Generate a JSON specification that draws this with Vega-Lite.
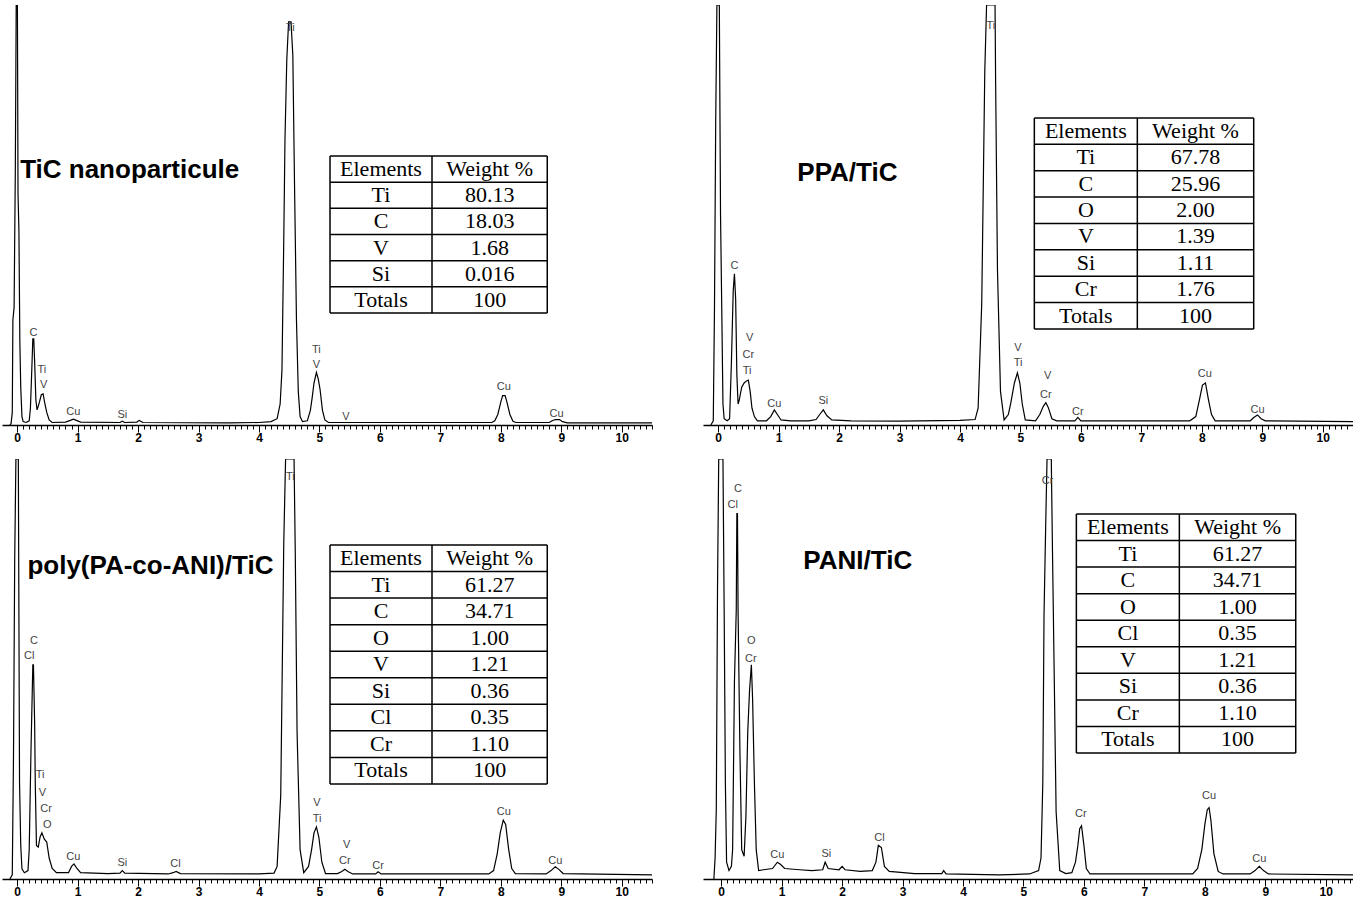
{
"$schema": "https://vega.github.io/schema/vega-lite/v6.json",
"background": "white",
"padding": {"left": 2, "top": 5, "right": 0, "bottom": 0},
"config": {"view": {"stroke": null},
 "axisX": {"domainColor": "black", "domainWidth": 1.5, "tickColor": "black", "tickWidth": 1, "labelFont": "Liberation Sans", "labelFontSize": 12, "labelFontWeight": "bold", "labelColor": "black", "labelPadding": 0, "labelOverlap": false, "labelFlush": false, "labelBound": false, "grid": false}},
"datasets": {
"ttl": [{"p":1,"name":"TiC nanoparticule"},{"p":2,"name":"PPA/TiC"},{"p":3,"name":"poly(PA-co-ANI)/TiC"},{"p":4,"name":"PANI/TiC"}],
"tbl": [
{"p":1,"row":0,"el":"Elements","w":"Weight %"},{"p":1,"row":1,"el":"Ti","w":"80.13"},{"p":1,"row":2,"el":"C","w":"18.03"},{"p":1,"row":3,"el":"V","w":"1.68"},{"p":1,"row":4,"el":"Si","w":"0.016"},{"p":1,"row":5,"el":"Totals","w":"100"},
{"p":2,"row":0,"el":"Elements","w":"Weight %"},{"p":2,"row":1,"el":"Ti","w":"67.78"},{"p":2,"row":2,"el":"C","w":"25.96"},{"p":2,"row":3,"el":"O","w":"2.00"},{"p":2,"row":4,"el":"V","w":"1.39"},{"p":2,"row":5,"el":"Si","w":"1.11"},{"p":2,"row":6,"el":"Cr","w":"1.76"},{"p":2,"row":7,"el":"Totals","w":"100"},
{"p":3,"row":0,"el":"Elements","w":"Weight %"},{"p":3,"row":1,"el":"Ti","w":"61.27"},{"p":3,"row":2,"el":"C","w":"34.71"},{"p":3,"row":3,"el":"O","w":"1.00"},{"p":3,"row":4,"el":"V","w":"1.21"},{"p":3,"row":5,"el":"Si","w":"0.36"},{"p":3,"row":6,"el":"Cl","w":"0.35"},{"p":3,"row":7,"el":"Cr","w":"1.10"},{"p":3,"row":8,"el":"Totals","w":"100"},
{"p":4,"row":0,"el":"Elements","w":"Weight %"},{"p":4,"row":1,"el":"Ti","w":"61.27"},{"p":4,"row":2,"el":"C","w":"34.71"},{"p":4,"row":3,"el":"O","w":"1.00"},{"p":4,"row":4,"el":"Cl","w":"0.35"},{"p":4,"row":5,"el":"V","w":"1.21"},{"p":4,"row":6,"el":"Si","w":"0.36"},{"p":4,"row":7,"el":"Cr","w":"1.10"},{"p":4,"row":8,"el":"Totals","w":"100"}
],
"lbl": [
{"p":1,"e":0.27,"v":22,"t":"C"},{"p":1,"e":0.41,"v":13,"t":"Ti"},{"p":1,"e":0.44,"v":9.5,"t":"V"},{"p":1,"e":0.93,"v":3.1,"t":"Cu"},{"p":1,"e":1.74,"v":2.4,"t":"Si"},{"p":1,"e":4.52,"v":94.5,"t":"Ti"},{"p":1,"e":4.95,"v":17.9,"t":"Ti"},{"p":1,"e":4.95,"v":14.3,"t":"V"},{"p":1,"e":5.44,"v":1.9,"t":"V"},{"p":1,"e":8.05,"v":9,"t":"Cu"},{"p":1,"e":8.92,"v":2.6,"t":"Cu"},
{"p":2,"e":0.27,"v":37.9,"t":"C"},{"p":2,"e":0.52,"v":20.7,"t":"V"},{"p":2,"e":0.5,"v":16.7,"t":"Cr"},{"p":2,"e":0.48,"v":12.9,"t":"Ti"},{"p":2,"e":0.93,"v":5,"t":"Cu"},{"p":2,"e":1.74,"v":5.7,"t":"Si"},{"p":2,"e":4.51,"v":95,"t":"Ti"},{"p":2,"e":4.96,"v":18.3,"t":"V"},{"p":2,"e":4.96,"v":14.8,"t":"Ti"},{"p":2,"e":5.45,"v":11.7,"t":"V"},{"p":2,"e":5.42,"v":7.1,"t":"Cr"},{"p":2,"e":5.95,"v":3.1,"t":"Cr"},{"p":2,"e":8.05,"v":12.1,"t":"Cu"},{"p":2,"e":8.92,"v":3.6,"t":"Cu"},
{"p":3,"e":0.28,"v":56.7,"t":"C"},{"p":3,"e":0.2,"v":53.1,"t":"Cl"},{"p":3,"e":0.38,"v":24.8,"t":"Ti"},{"p":3,"e":0.42,"v":20.5,"t":"V"},{"p":3,"e":0.48,"v":16.7,"t":"Cr"},{"p":3,"e":0.5,"v":12.9,"t":"O"},{"p":3,"e":0.93,"v":5.2,"t":"Cu"},{"p":3,"e":1.74,"v":3.8,"t":"Si"},{"p":3,"e":2.62,"v":3.6,"t":"Cl"},{"p":3,"e":4.52,"v":95.7,"t":"Ti"},{"p":3,"e":4.96,"v":18.1,"t":"V"},{"p":3,"e":4.96,"v":14.3,"t":"Ti"},{"p":3,"e":5.45,"v":8.1,"t":"V"},{"p":3,"e":5.42,"v":4.3,"t":"Cr"},{"p":3,"e":5.97,"v":3.1,"t":"Cr"},{"p":3,"e":8.05,"v":16,"t":"Cu"},{"p":3,"e":8.9,"v":4.3,"t":"Cu"},
{"p":4,"e":0.28,"v":92.9,"t":"C"},{"p":4,"e":0.19,"v":89,"t":"Cl"},{"p":4,"e":0.5,"v":56.7,"t":"O"},{"p":4,"e":0.49,"v":52.4,"t":"Cr"},{"p":4,"e":0.93,"v":5.7,"t":"Cu"},{"p":4,"e":1.74,"v":6,"t":"Si"},{"p":4,"e":2.62,"v":9.8,"t":"Cl"},{"p":4,"e":5.4,"v":94.8,"t":"Cr"},{"p":4,"e":5.95,"v":15.5,"t":"Cr"},{"p":4,"e":8.07,"v":19.8,"t":"Cu"},{"p":4,"e":8.9,"v":4.8,"t":"Cu"}
],
"spec": [
{"p":1,"e":-0.12,"v":0},{"p":1,"e":-0.1,"v":0.3},{"p":1,"e":-0.08,"v":3},{"p":1,"e":-0.07,"v":25},{"p":1,"e":-0.05,"v":28},{"p":1,"e":-0.03,"v":60},{"p":1,"e":-0.015,"v":100},{"p":1,"e":0.005,"v":100},{"p":1,"e":0.015,"v":55},{"p":1,"e":0.03,"v":46},{"p":1,"e":0.045,"v":20},{"p":1,"e":0.06,"v":9},{"p":1,"e":0.08,"v":2},{"p":1,"e":0.1,"v":0.8},{"p":1,"e":0.15,"v":0.6},{"p":1,"e":0.2,"v":1},{"p":1,"e":0.22,"v":4},{"p":1,"e":0.24,"v":12},{"p":1,"e":0.26,"v":20.5},{"p":1,"e":0.275,"v":20.5},{"p":1,"e":0.29,"v":15},{"p":1,"e":0.31,"v":6},{"p":1,"e":0.33,"v":3.6},{"p":1,"e":0.35,"v":4.5},{"p":1,"e":0.37,"v":5.5},{"p":1,"e":0.4,"v":7.2},{"p":1,"e":0.43,"v":7.4},{"p":1,"e":0.46,"v":5},{"p":1,"e":0.49,"v":3},{"p":1,"e":0.53,"v":1.2},{"p":1,"e":0.58,"v":0.6},{"p":1,"e":0.8,"v":0.7},{"p":1,"e":0.88,"v":1.1},{"p":1,"e":0.93,"v":1.4},{"p":1,"e":0.98,"v":1.1},{"p":1,"e":1.05,"v":0.7},{"p":1,"e":1.7,"v":0.6},{"p":1,"e":1.74,"v":0.9},{"p":1,"e":1.78,"v":0.6},{"p":1,"e":1.98,"v":0.7},{"p":1,"e":2.02,"v":1.1},{"p":1,"e":2.08,"v":0.6},{"p":1,"e":3.5,"v":0.5},{"p":1,"e":4.0,"v":0.6},{"p":1,"e":4.2,"v":0.8},{"p":1,"e":4.3,"v":1.5},{"p":1,"e":4.35,"v":5},{"p":1,"e":4.38,"v":13},{"p":1,"e":4.41,"v":44},{"p":1,"e":4.43,"v":68},{"p":1,"e":4.46,"v":87},{"p":1,"e":4.49,"v":96},{"p":1,"e":4.53,"v":96},{"p":1,"e":4.56,"v":88},{"p":1,"e":4.59,"v":55},{"p":1,"e":4.62,"v":25},{"p":1,"e":4.65,"v":8},{"p":1,"e":4.68,"v":2},{"p":1,"e":4.72,"v":0.8},{"p":1,"e":4.8,"v":1},{"p":1,"e":4.85,"v":3.5},{"p":1,"e":4.88,"v":6.5},{"p":1,"e":4.91,"v":10},{"p":1,"e":4.95,"v":12.5},{"p":1,"e":4.98,"v":11},{"p":1,"e":5.01,"v":8.5},{"p":1,"e":5.05,"v":3.5},{"p":1,"e":5.09,"v":1.2},{"p":1,"e":5.15,"v":0.6},{"p":1,"e":7.85,"v":0.6},{"p":1,"e":7.9,"v":1},{"p":1,"e":7.95,"v":2.5},{"p":1,"e":8.0,"v":5.5},{"p":1,"e":8.03,"v":7},{"p":1,"e":8.07,"v":7},{"p":1,"e":8.1,"v":5.5},{"p":1,"e":8.15,"v":2.5},{"p":1,"e":8.2,"v":0.9},{"p":1,"e":8.25,"v":0.6},{"p":1,"e":8.8,"v":0.6},{"p":1,"e":8.85,"v":1},{"p":1,"e":8.9,"v":1.3},{"p":1,"e":8.97,"v":1.3},{"p":1,"e":9.02,"v":0.8},{"p":1,"e":9.1,"v":0.5},{"p":1,"e":10.5,"v":0.5},
{"p":2,"e":-0.12,"v":0},{"p":2,"e":-0.08,"v":1},{"p":2,"e":-0.06,"v":28},{"p":2,"e":-0.04,"v":72},{"p":2,"e":-0.02,"v":100},{"p":2,"e":0.02,"v":100},{"p":2,"e":0.04,"v":50},{"p":2,"e":0.06,"v":28},{"p":2,"e":0.08,"v":5},{"p":2,"e":0.1,"v":1.5},{"p":2,"e":0.15,"v":1},{"p":2,"e":0.19,"v":1.5},{"p":2,"e":0.22,"v":15},{"p":2,"e":0.25,"v":32},{"p":2,"e":0.27,"v":36},{"p":2,"e":0.29,"v":30},{"p":2,"e":0.31,"v":12},{"p":2,"e":0.33,"v":5},{"p":2,"e":0.35,"v":6},{"p":2,"e":0.39,"v":9},{"p":2,"e":0.43,"v":10},{"p":2,"e":0.47,"v":10.5},{"p":2,"e":0.5,"v":10.7},{"p":2,"e":0.53,"v":8},{"p":2,"e":0.56,"v":4},{"p":2,"e":0.6,"v":2},{"p":2,"e":0.65,"v":1},{"p":2,"e":0.8,"v":1},{"p":2,"e":0.87,"v":2},{"p":2,"e":0.93,"v":3.6},{"p":2,"e":0.98,"v":2.5},{"p":2,"e":1.04,"v":1.2},{"p":2,"e":1.2,"v":1},{"p":2,"e":1.5,"v":1},{"p":2,"e":1.62,"v":1.3},{"p":2,"e":1.68,"v":2.5},{"p":2,"e":1.74,"v":3.6},{"p":2,"e":1.8,"v":2.2},{"p":2,"e":1.88,"v":1.2},{"p":2,"e":2.2,"v":1},{"p":2,"e":3.0,"v":0.9},{"p":2,"e":4.0,"v":1.1},{"p":2,"e":4.25,"v":1.3},{"p":2,"e":4.3,"v":4},{"p":2,"e":4.36,"v":29},{"p":2,"e":4.41,"v":84},{"p":2,"e":4.44,"v":100},{"p":2,"e":4.58,"v":100},{"p":2,"e":4.59,"v":81},{"p":2,"e":4.62,"v":37},{"p":2,"e":4.67,"v":8},{"p":2,"e":4.73,"v":1.2},{"p":2,"e":4.8,"v":2.5},{"p":2,"e":4.84,"v":5.2},{"p":2,"e":4.9,"v":10},{"p":2,"e":4.95,"v":12.4},{"p":2,"e":4.99,"v":10},{"p":2,"e":5.03,"v":5},{"p":2,"e":5.08,"v":1.2},{"p":2,"e":5.25,"v":1},{"p":2,"e":5.32,"v":2.5},{"p":2,"e":5.38,"v":4.5},{"p":2,"e":5.42,"v":5.3},{"p":2,"e":5.46,"v":4.2},{"p":2,"e":5.52,"v":1.5},{"p":2,"e":5.6,"v":1},{"p":2,"e":5.9,"v":1},{"p":2,"e":5.95,"v":1.8},{"p":2,"e":6.0,"v":1},{"p":2,"e":7.8,"v":1},{"p":2,"e":7.9,"v":2},{"p":2,"e":7.96,"v":6},{"p":2,"e":8.01,"v":9.5},{"p":2,"e":8.06,"v":10},{"p":2,"e":8.11,"v":6},{"p":2,"e":8.16,"v":2.5},{"p":2,"e":8.22,"v":1},{"p":2,"e":8.8,"v":1},{"p":2,"e":8.86,"v":1.8},{"p":2,"e":8.92,"v":2.4},{"p":2,"e":8.98,"v":1.5},{"p":2,"e":9.05,"v":1},{"p":2,"e":10.5,"v":0.8},
{"p":3,"e":-0.12,"v":0},{"p":3,"e":-0.08,"v":1},{"p":3,"e":-0.06,"v":29},{"p":3,"e":-0.04,"v":76},{"p":3,"e":-0.02,"v":100},{"p":3,"e":0.02,"v":100},{"p":3,"e":0.04,"v":23},{"p":3,"e":0.06,"v":8},{"p":3,"e":0.08,"v":2.4},{"p":3,"e":0.12,"v":1.5},{"p":3,"e":0.18,"v":2},{"p":3,"e":0.2,"v":7},{"p":3,"e":0.23,"v":31},{"p":3,"e":0.26,"v":51},{"p":3,"e":0.27,"v":51},{"p":3,"e":0.29,"v":37},{"p":3,"e":0.3,"v":23},{"p":3,"e":0.32,"v":8},{"p":3,"e":0.35,"v":7.6},{"p":3,"e":0.38,"v":10},{"p":3,"e":0.41,"v":11},{"p":3,"e":0.45,"v":9.5},{"p":3,"e":0.49,"v":8.8},{"p":3,"e":0.53,"v":5},{"p":3,"e":0.58,"v":2.5},{"p":3,"e":0.65,"v":1.5},{"p":3,"e":0.85,"v":1.5},{"p":3,"e":0.9,"v":3},{"p":3,"e":0.94,"v":3.6},{"p":3,"e":0.99,"v":2.5},{"p":3,"e":1.05,"v":1.5},{"p":3,"e":1.5,"v":1.3},{"p":3,"e":1.7,"v":1.4},{"p":3,"e":1.74,"v":2},{"p":3,"e":1.78,"v":1.4},{"p":3,"e":2.5,"v":1.2},{"p":3,"e":2.58,"v":1.5},{"p":3,"e":2.63,"v":1.8},{"p":3,"e":2.7,"v":1.3},{"p":3,"e":4.0,"v":1.2},{"p":3,"e":4.25,"v":1.4},{"p":3,"e":4.3,"v":3},{"p":3,"e":4.36,"v":20},{"p":3,"e":4.41,"v":80},{"p":3,"e":4.44,"v":100},{"p":3,"e":4.58,"v":100},{"p":3,"e":4.6,"v":78},{"p":3,"e":4.63,"v":35},{"p":3,"e":4.68,"v":7},{"p":3,"e":4.74,"v":1.5},{"p":3,"e":4.82,"v":3},{"p":3,"e":4.87,"v":7},{"p":3,"e":4.91,"v":11},{"p":3,"e":4.95,"v":12.4},{"p":3,"e":4.99,"v":10},{"p":3,"e":5.04,"v":4},{"p":3,"e":5.1,"v":1.3},{"p":3,"e":5.3,"v":1.3},{"p":3,"e":5.37,"v":1.8},{"p":3,"e":5.42,"v":2.3},{"p":3,"e":5.47,"v":1.8},{"p":3,"e":5.55,"v":1.2},{"p":3,"e":5.93,"v":1.2},{"p":3,"e":5.97,"v":1.7},{"p":3,"e":6.02,"v":1.2},{"p":3,"e":7.8,"v":1.2},{"p":3,"e":7.88,"v":2},{"p":3,"e":7.94,"v":6},{"p":3,"e":7.99,"v":11},{"p":3,"e":8.04,"v":14},{"p":3,"e":8.08,"v":13},{"p":3,"e":8.13,"v":7},{"p":3,"e":8.18,"v":2.5},{"p":3,"e":8.24,"v":1.3},{"p":3,"e":8.75,"v":1.2},{"p":3,"e":8.83,"v":2},{"p":3,"e":8.9,"v":2.9},{"p":3,"e":8.96,"v":2.3},{"p":3,"e":9.03,"v":1.3},{"p":3,"e":10.5,"v":1},
{"p":4,"e":-0.12,"v":0},{"p":4,"e":-0.1,"v":5},{"p":4,"e":-0.08,"v":16.7},{"p":4,"e":-0.06,"v":69},{"p":4,"e":-0.04,"v":100},{"p":4,"e":0.03,"v":100},{"p":4,"e":0.05,"v":64},{"p":4,"e":0.07,"v":23},{"p":4,"e":0.09,"v":4},{"p":4,"e":0.13,"v":2},{"p":4,"e":0.17,"v":3},{"p":4,"e":0.19,"v":7},{"p":4,"e":0.22,"v":47},{"p":4,"e":0.25,"v":64},{"p":4,"e":0.26,"v":87},{"p":4,"e":0.27,"v":87},{"p":4,"e":0.28,"v":64},{"p":4,"e":0.31,"v":31},{"p":4,"e":0.34,"v":7},{"p":4,"e":0.38,"v":5.4},{"p":4,"e":0.41,"v":15},{"p":4,"e":0.44,"v":35},{"p":4,"e":0.47,"v":45},{"p":4,"e":0.5,"v":51},{"p":4,"e":0.52,"v":43},{"p":4,"e":0.55,"v":23},{"p":4,"e":0.58,"v":7},{"p":4,"e":0.62,"v":2},{"p":4,"e":0.7,"v":2.2},{"p":4,"e":0.85,"v":2.5},{"p":4,"e":0.93,"v":4},{"p":4,"e":0.98,"v":3.5},{"p":4,"e":1.05,"v":2.5},{"p":4,"e":1.3,"v":2.2},{"p":4,"e":1.5,"v":2},{"p":4,"e":1.68,"v":2.2},{"p":4,"e":1.72,"v":4},{"p":4,"e":1.77,"v":2.5},{"p":4,"e":1.95,"v":2.2},{"p":4,"e":2.0,"v":3},{"p":4,"e":2.05,"v":2.2},{"p":4,"e":2.3,"v":1.8},{"p":4,"e":2.5,"v":2},{"p":4,"e":2.56,"v":4},{"p":4,"e":2.6,"v":8},{"p":4,"e":2.65,"v":7.5},{"p":4,"e":2.7,"v":3},{"p":4,"e":2.78,"v":1.8},{"p":4,"e":3.2,"v":1.3},{"p":4,"e":3.65,"v":1.3},{"p":4,"e":3.68,"v":2},{"p":4,"e":3.72,"v":1.2},{"p":4,"e":4.6,"v":1},{"p":4,"e":5.1,"v":1.2},{"p":4,"e":5.25,"v":2},{"p":4,"e":5.29,"v":5},{"p":4,"e":5.32,"v":23},{"p":4,"e":5.34,"v":63},{"p":4,"e":5.37,"v":86},{"p":4,"e":5.39,"v":100},{"p":4,"e":5.46,"v":100},{"p":4,"e":5.48,"v":78},{"p":4,"e":5.51,"v":47},{"p":4,"e":5.54,"v":16},{"p":4,"e":5.6,"v":2},{"p":4,"e":5.7,"v":1.3},{"p":4,"e":5.8,"v":1.5},{"p":4,"e":5.86,"v":4},{"p":4,"e":5.9,"v":8},{"p":4,"e":5.93,"v":12},{"p":4,"e":5.96,"v":12.7},{"p":4,"e":6.0,"v":8},{"p":4,"e":6.04,"v":2.5},{"p":4,"e":6.1,"v":1.2},{"p":4,"e":7.8,"v":1.2},{"p":4,"e":7.88,"v":2.5},{"p":4,"e":7.95,"v":7},{"p":4,"e":8.0,"v":13},{"p":4,"e":8.04,"v":16.5},{"p":4,"e":8.07,"v":17},{"p":4,"e":8.1,"v":14},{"p":4,"e":8.15,"v":6},{"p":4,"e":8.22,"v":1.8},{"p":4,"e":8.3,"v":1.2},{"p":4,"e":8.75,"v":1.2},{"p":4,"e":8.83,"v":2},{"p":4,"e":8.9,"v":3},{"p":4,"e":8.97,"v":2},{"p":4,"e":9.05,"v":1.2},{"p":4,"e":10.45,"v":1}
]
},
"spacing": 16,
"vconcat": [
{"hconcat": [
{"width": 650, "height": 420, "resolve": {"scale": {"x": "independent", "y": "independent"}},
 "layer": [
  {"data": {"name": "spec"}, "transform": [{"filter": "datum.p === 1"}],
   "mark": {"type": "line", "color": "black", "strokeWidth": 1.2, "clip": true},
   "encoding": {"x": {"field": "e", "type": "quantitative", "scale": {"domain": [-0.25, 10.5], "nice": false, "zero": false},
     "axis": {"title": null, "tickCount": 100, "labelExpr": "datum.value % 1 === 0 && datum.value >= 0 ? format(datum.value, 'd') : ''", "tickSize": {"condition": {"test": "datum.value % 1 === 0", "value": 7}, "value": 4}, "tickOpacity": {"condition": {"test": "datum.value < 0", "value": 0}, "value": 1}}},
    "y": {"field": "v", "type": "quantitative", "scale": {"domain": [0, 100], "nice": false, "zero": false}, "axis": null}}},
  {"data": {"name": "lbl"}, "transform": [{"filter": "datum.p === 1"}],
   "mark": {"type": "text", "font": "Liberation Sans", "fontSize": 11, "color": "#444", "baseline": "middle"},
   "encoding": {"x": {"field": "e", "type": "quantitative", "scale": {"domain": [-0.25, 10.5], "nice": false, "zero": false}, "axis": null},
    "y": {"field": "v", "type": "quantitative", "scale": {"domain": [0, 100], "nice": false, "zero": false}, "axis": null}, "text": {"field": "t"}}},
  {"data": {"name": "ttl"}, "transform": [{"filter": "datum.p === 1"}],
   "mark": {"type": "text", "font": "Liberation Sans", "fontSize": 26, "fontWeight": "bold", "color": "black", "align": "left", "baseline": "middle"},
   "encoding": {"x": {"datum": 0.05, "type": "quantitative", "scale": {"domain": [-0.25, 10.5], "nice": false, "zero": false}, "axis": null},
    "y": {"datum": 60.7, "type": "quantitative", "scale": {"domain": [0, 100], "nice": false, "zero": false}, "axis": null}, "text": {"field": "name"}}},
  {"layer": [
   {"data": {"name": "tbl"}, "transform": [{"filter": "datum.p === 1"}], "mark": {"type": "rule", "color": "black", "strokeWidth": 1.5},
    "encoding": {"x": {"datum": 0, "type": "quantitative", "scale": {"domain": [-3.216, 3.157], "nice": false, "zero": false}, "axis": null}, "x2": {"datum": 2.13},
     "y": {"field": "row", "type": "quantitative", "scale": {"domain": [-5.770, 10.279], "nice": false, "zero": false, "reverse": true}, "axis": null}}},
   {"data": {"name": "tbl"}, "transform": [{"filter": "datum.p === 1 && datum.row === 0"}], "mark": {"type": "rule", "color": "black", "strokeWidth": 1.5},
    "encoding": {"x": {"datum": 0, "type": "quantitative", "scale": {"domain": [-3.216, 3.157], "nice": false, "zero": false}, "axis": null}, "x2": {"datum": 2.13},
     "y": {"datum": 6, "type": "quantitative", "scale": {"domain": [-5.770, 10.279], "nice": false, "zero": false, "reverse": true}, "axis": null}}},
   {"data": {"name": "tbl"}, "transform": [{"filter": "datum.p === 1 && datum.row === 0"}], "mark": {"type": "rule", "color": "black", "strokeWidth": 1.5},
    "encoding": {"x": {"datum": 0, "type": "quantitative", "scale": {"domain": [-3.216, 3.157], "nice": false, "zero": false}, "axis": null},
     "y": {"datum": 0, "type": "quantitative", "scale": {"domain": [-5.770, 10.279], "nice": false, "zero": false, "reverse": true}, "axis": null}, "y2": {"datum": 6}}},
   {"data": {"name": "tbl"}, "transform": [{"filter": "datum.p === 1 && datum.row === 0"}], "mark": {"type": "rule", "color": "black", "strokeWidth": 1.5},
    "encoding": {"x": {"datum": 1, "type": "quantitative", "scale": {"domain": [-3.216, 3.157], "nice": false, "zero": false}, "axis": null},
     "y": {"datum": 0, "type": "quantitative", "scale": {"domain": [-5.770, 10.279], "nice": false, "zero": false, "reverse": true}, "axis": null}, "y2": {"datum": 6}}},
   {"data": {"name": "tbl"}, "transform": [{"filter": "datum.p === 1 && datum.row === 0"}], "mark": {"type": "rule", "color": "black", "strokeWidth": 1.5},
    "encoding": {"x": {"datum": 2.13, "type": "quantitative", "scale": {"domain": [-3.216, 3.157], "nice": false, "zero": false}, "axis": null},
     "y": {"datum": 0, "type": "quantitative", "scale": {"domain": [-5.770, 10.279], "nice": false, "zero": false, "reverse": true}, "axis": null}, "y2": {"datum": 6}}},
   {"data": {"name": "tbl"}, "transform": [{"filter": "datum.p === 1"}], "mark": {"type": "text", "font": "Liberation Serif", "fontSize": 22, "color": "black", "baseline": "middle", "dy": 13},
    "encoding": {"x": {"datum": 0.5, "type": "quantitative", "scale": {"domain": [-3.216, 3.157], "nice": false, "zero": false}, "axis": null},
     "y": {"field": "row", "type": "quantitative", "scale": {"domain": [-5.770, 10.279], "nice": false, "zero": false, "reverse": true}, "axis": null}, "text": {"field": "el"}}},
   {"data": {"name": "tbl"}, "transform": [{"filter": "datum.p === 1"}], "mark": {"type": "text", "font": "Liberation Serif", "fontSize": 22, "color": "black", "baseline": "middle", "dy": 13},
    "encoding": {"x": {"datum": 1.565, "type": "quantitative", "scale": {"domain": [-3.216, 3.157], "nice": false, "zero": false}, "axis": null},
     "y": {"field": "row", "type": "quantitative", "scale": {"domain": [-5.770, 10.279], "nice": false, "zero": false, "reverse": true}, "axis": null}, "text": {"field": "w"}}}
  ]}
 ]},
{"width": 650, "height": 420, "resolve": {"scale": {"x": "independent", "y": "independent"}},
 "layer": [
  {"data": {"name": "spec"}, "transform": [{"filter": "datum.p === 2"}],
   "mark": {"type": "line", "color": "black", "strokeWidth": 1.2, "clip": true},
   "encoding": {"x": {"field": "e", "type": "quantitative", "scale": {"domain": [-0.25, 10.5], "nice": false, "zero": false},
     "axis": {"title": null, "tickCount": 100, "labelExpr": "datum.value % 1 === 0 && datum.value >= 0 ? format(datum.value, 'd') : ''", "tickSize": {"condition": {"test": "datum.value % 1 === 0", "value": 7}, "value": 4}, "tickOpacity": {"condition": {"test": "datum.value < 0", "value": 0}, "value": 1}}},
    "y": {"field": "v", "type": "quantitative", "scale": {"domain": [0, 100], "nice": false, "zero": false}, "axis": null}}},
  {"data": {"name": "lbl"}, "transform": [{"filter": "datum.p === 2"}],
   "mark": {"type": "text", "font": "Liberation Sans", "fontSize": 11, "color": "#444", "baseline": "middle"},
   "encoding": {"x": {"field": "e", "type": "quantitative", "scale": {"domain": [-0.25, 10.5], "nice": false, "zero": false}, "axis": null},
    "y": {"field": "v", "type": "quantitative", "scale": {"domain": [0, 100], "nice": false, "zero": false}, "axis": null}, "text": {"field": "t"}}},
  {"data": {"name": "ttl"}, "transform": [{"filter": "datum.p === 2"}],
   "mark": {"type": "text", "font": "Liberation Sans", "fontSize": 26, "fontWeight": "bold", "color": "black", "align": "left", "baseline": "middle"},
   "encoding": {"x": {"datum": 1.31, "type": "quantitative", "scale": {"domain": [-0.25, 10.5], "nice": false, "zero": false}, "axis": null},
    "y": {"datum": 60, "type": "quantitative", "scale": {"domain": [0, 100], "nice": false, "zero": false}, "axis": null}, "text": {"field": "name"}}},
  {"layer": [
   {"data": {"name": "tbl"}, "transform": [{"filter": "datum.p === 2"}], "mark": {"type": "rule", "color": "black", "strokeWidth": 1.5},
    "encoding": {"x": {"datum": 0, "type": "quantitative", "scale": {"domain": [-3.217, 3.094], "nice": false, "zero": false}, "axis": null}, "x2": {"datum": 2.13},
     "y": {"field": "row", "type": "quantitative", "scale": {"domain": [-4.284, 11.640], "nice": false, "zero": false, "reverse": true}, "axis": null}}},
   {"data": {"name": "tbl"}, "transform": [{"filter": "datum.p === 2 && datum.row === 0"}], "mark": {"type": "rule", "color": "black", "strokeWidth": 1.5},
    "encoding": {"x": {"datum": 0, "type": "quantitative", "scale": {"domain": [-3.217, 3.094], "nice": false, "zero": false}, "axis": null}, "x2": {"datum": 2.13},
     "y": {"datum": 8, "type": "quantitative", "scale": {"domain": [-4.284, 11.640], "nice": false, "zero": false, "reverse": true}, "axis": null}}},
   {"data": {"name": "tbl"}, "transform": [{"filter": "datum.p === 2 && datum.row === 0"}], "mark": {"type": "rule", "color": "black", "strokeWidth": 1.5},
    "encoding": {"x": {"datum": 0, "type": "quantitative", "scale": {"domain": [-3.217, 3.094], "nice": false, "zero": false}, "axis": null},
     "y": {"datum": 0, "type": "quantitative", "scale": {"domain": [-4.284, 11.640], "nice": false, "zero": false, "reverse": true}, "axis": null}, "y2": {"datum": 8}}},
   {"data": {"name": "tbl"}, "transform": [{"filter": "datum.p === 2 && datum.row === 0"}], "mark": {"type": "rule", "color": "black", "strokeWidth": 1.5},
    "encoding": {"x": {"datum": 1, "type": "quantitative", "scale": {"domain": [-3.217, 3.094], "nice": false, "zero": false}, "axis": null},
     "y": {"datum": 0, "type": "quantitative", "scale": {"domain": [-4.284, 11.640], "nice": false, "zero": false, "reverse": true}, "axis": null}, "y2": {"datum": 8}}},
   {"data": {"name": "tbl"}, "transform": [{"filter": "datum.p === 2 && datum.row === 0"}], "mark": {"type": "rule", "color": "black", "strokeWidth": 1.5},
    "encoding": {"x": {"datum": 2.13, "type": "quantitative", "scale": {"domain": [-3.217, 3.094], "nice": false, "zero": false}, "axis": null},
     "y": {"datum": 0, "type": "quantitative", "scale": {"domain": [-4.284, 11.640], "nice": false, "zero": false, "reverse": true}, "axis": null}, "y2": {"datum": 8}}},
   {"data": {"name": "tbl"}, "transform": [{"filter": "datum.p === 2"}], "mark": {"type": "text", "font": "Liberation Serif", "fontSize": 22, "color": "black", "baseline": "middle", "dy": 13},
    "encoding": {"x": {"datum": 0.5, "type": "quantitative", "scale": {"domain": [-3.217, 3.094], "nice": false, "zero": false}, "axis": null},
     "y": {"field": "row", "type": "quantitative", "scale": {"domain": [-4.284, 11.640], "nice": false, "zero": false, "reverse": true}, "axis": null}, "text": {"field": "el"}}},
   {"data": {"name": "tbl"}, "transform": [{"filter": "datum.p === 2"}], "mark": {"type": "text", "font": "Liberation Serif", "fontSize": 22, "color": "black", "baseline": "middle", "dy": 13},
    "encoding": {"x": {"datum": 1.565, "type": "quantitative", "scale": {"domain": [-3.217, 3.094], "nice": false, "zero": false}, "axis": null},
     "y": {"field": "row", "type": "quantitative", "scale": {"domain": [-4.284, 11.640], "nice": false, "zero": false, "reverse": true}, "axis": null}, "text": {"field": "w"}}}
  ]}
 ]}
], "spacing": 50},
{"hconcat": [
{"width": 650, "height": 420, "resolve": {"scale": {"x": "independent", "y": "independent"}},
 "layer": [
  {"data": {"name": "spec"}, "transform": [{"filter": "datum.p === 3"}],
   "mark": {"type": "line", "color": "black", "strokeWidth": 1.2, "clip": true},
   "encoding": {"x": {"field": "e", "type": "quantitative", "scale": {"domain": [-0.25, 10.5], "nice": false, "zero": false},
     "axis": {"title": null, "tickCount": 100, "labelExpr": "datum.value % 1 === 0 && datum.value >= 0 ? format(datum.value, 'd') : ''", "tickSize": {"condition": {"test": "datum.value % 1 === 0", "value": 7}, "value": 4}, "tickOpacity": {"condition": {"test": "datum.value < 0", "value": 0}, "value": 1}}},
    "y": {"field": "v", "type": "quantitative", "scale": {"domain": [0, 100], "nice": false, "zero": false}, "axis": null}}},
  {"data": {"name": "lbl"}, "transform": [{"filter": "datum.p === 3"}],
   "mark": {"type": "text", "font": "Liberation Sans", "fontSize": 11, "color": "#444", "baseline": "middle"},
   "encoding": {"x": {"field": "e", "type": "quantitative", "scale": {"domain": [-0.25, 10.5], "nice": false, "zero": false}, "axis": null},
    "y": {"field": "v", "type": "quantitative", "scale": {"domain": [0, 100], "nice": false, "zero": false}, "axis": null}, "text": {"field": "t"}}},
  {"data": {"name": "ttl"}, "transform": [{"filter": "datum.p === 3"}],
   "mark": {"type": "text", "font": "Liberation Sans", "fontSize": 26, "fontWeight": "bold", "color": "black", "align": "left", "baseline": "middle"},
   "encoding": {"x": {"datum": 0.17, "type": "quantitative", "scale": {"domain": [-0.25, 10.5], "nice": false, "zero": false}, "axis": null},
    "y": {"datum": 74.5, "type": "quantitative", "scale": {"domain": [0, 100], "nice": false, "zero": false}, "axis": null}, "text": {"field": "name"}}},
  {"layer": [
   {"data": {"name": "tbl"}, "transform": [{"filter": "datum.p === 3"}], "mark": {"type": "rule", "color": "black", "strokeWidth": 1.5},
    "encoding": {"x": {"datum": 0, "type": "quantitative", "scale": {"domain": [-3.216, 3.157], "nice": false, "zero": false}, "axis": null}, "x2": {"datum": 2.13},
     "y": {"field": "row", "type": "quantitative", "scale": {"domain": [-3.238, 12.578], "nice": false, "zero": false, "reverse": true}, "axis": null}}},
   {"data": {"name": "tbl"}, "transform": [{"filter": "datum.p === 3 && datum.row === 0"}], "mark": {"type": "rule", "color": "black", "strokeWidth": 1.5},
    "encoding": {"x": {"datum": 0, "type": "quantitative", "scale": {"domain": [-3.216, 3.157], "nice": false, "zero": false}, "axis": null}, "x2": {"datum": 2.13},
     "y": {"datum": 9, "type": "quantitative", "scale": {"domain": [-3.238, 12.578], "nice": false, "zero": false, "reverse": true}, "axis": null}}},
   {"data": {"name": "tbl"}, "transform": [{"filter": "datum.p === 3 && datum.row === 0"}], "mark": {"type": "rule", "color": "black", "strokeWidth": 1.5},
    "encoding": {"x": {"datum": 0, "type": "quantitative", "scale": {"domain": [-3.216, 3.157], "nice": false, "zero": false}, "axis": null},
     "y": {"datum": 0, "type": "quantitative", "scale": {"domain": [-3.238, 12.578], "nice": false, "zero": false, "reverse": true}, "axis": null}, "y2": {"datum": 9}}},
   {"data": {"name": "tbl"}, "transform": [{"filter": "datum.p === 3 && datum.row === 0"}], "mark": {"type": "rule", "color": "black", "strokeWidth": 1.5},
    "encoding": {"x": {"datum": 1, "type": "quantitative", "scale": {"domain": [-3.216, 3.157], "nice": false, "zero": false}, "axis": null},
     "y": {"datum": 0, "type": "quantitative", "scale": {"domain": [-3.238, 12.578], "nice": false, "zero": false, "reverse": true}, "axis": null}, "y2": {"datum": 9}}},
   {"data": {"name": "tbl"}, "transform": [{"filter": "datum.p === 3 && datum.row === 0"}], "mark": {"type": "rule", "color": "black", "strokeWidth": 1.5},
    "encoding": {"x": {"datum": 2.13, "type": "quantitative", "scale": {"domain": [-3.216, 3.157], "nice": false, "zero": false}, "axis": null},
     "y": {"datum": 0, "type": "quantitative", "scale": {"domain": [-3.238, 12.578], "nice": false, "zero": false, "reverse": true}, "axis": null}, "y2": {"datum": 9}}},
   {"data": {"name": "tbl"}, "transform": [{"filter": "datum.p === 3"}], "mark": {"type": "text", "font": "Liberation Serif", "fontSize": 22, "color": "black", "baseline": "middle", "dy": 13},
    "encoding": {"x": {"datum": 0.5, "type": "quantitative", "scale": {"domain": [-3.216, 3.157], "nice": false, "zero": false}, "axis": null},
     "y": {"field": "row", "type": "quantitative", "scale": {"domain": [-3.238, 12.578], "nice": false, "zero": false, "reverse": true}, "axis": null}, "text": {"field": "el"}}},
   {"data": {"name": "tbl"}, "transform": [{"filter": "datum.p === 3"}], "mark": {"type": "text", "font": "Liberation Serif", "fontSize": 22, "color": "black", "baseline": "middle", "dy": 13},
    "encoding": {"x": {"datum": 1.565, "type": "quantitative", "scale": {"domain": [-3.216, 3.157], "nice": false, "zero": false}, "axis": null},
     "y": {"field": "row", "type": "quantitative", "scale": {"domain": [-3.238, 12.578], "nice": false, "zero": false, "reverse": true}, "axis": null}, "text": {"field": "w"}}}
  ]}
 ]},
{"width": 650, "height": 420, "resolve": {"scale": {"x": "independent", "y": "independent"}},
 "layer": [
  {"data": {"name": "spec"}, "transform": [{"filter": "datum.p === 4"}],
   "mark": {"type": "line", "color": "black", "strokeWidth": 1.2, "clip": true},
   "encoding": {"x": {"field": "e", "type": "quantitative", "scale": {"domain": [-0.3, 10.45], "nice": false, "zero": false},
     "axis": {"title": null, "tickCount": 100, "labelExpr": "datum.value % 1 === 0 && datum.value >= 0 ? format(datum.value, 'd') : ''", "tickSize": {"condition": {"test": "datum.value % 1 === 0", "value": 7}, "value": 4}, "tickOpacity": {"condition": {"test": "datum.value < 0", "value": 0}, "value": 1}}},
    "y": {"field": "v", "type": "quantitative", "scale": {"domain": [0, 100], "nice": false, "zero": false}, "axis": null}}},
  {"data": {"name": "lbl"}, "transform": [{"filter": "datum.p === 4"}],
   "mark": {"type": "text", "font": "Liberation Sans", "fontSize": 11, "color": "#444", "baseline": "middle"},
   "encoding": {"x": {"field": "e", "type": "quantitative", "scale": {"domain": [-0.3, 10.45], "nice": false, "zero": false}, "axis": null},
    "y": {"field": "v", "type": "quantitative", "scale": {"domain": [0, 100], "nice": false, "zero": false}, "axis": null}, "text": {"field": "t"}}},
  {"data": {"name": "ttl"}, "transform": [{"filter": "datum.p === 4"}],
   "mark": {"type": "text", "font": "Liberation Sans", "fontSize": 26, "fontWeight": "bold", "color": "black", "align": "left", "baseline": "middle"},
   "encoding": {"x": {"datum": 1.36, "type": "quantitative", "scale": {"domain": [-0.3, 10.45], "nice": false, "zero": false}, "axis": null},
    "y": {"datum": 75.7, "type": "quantitative", "scale": {"domain": [0, 100], "nice": false, "zero": false}, "axis": null}, "text": {"field": "name"}}},
  {"layer": [
   {"data": {"name": "tbl"}, "transform": [{"filter": "datum.p === 4"}], "mark": {"type": "rule", "color": "black", "strokeWidth": 1.5},
    "encoding": {"x": {"datum": 0, "type": "quantitative", "scale": {"domain": [-3.625, 2.686], "nice": false, "zero": false}, "axis": null}, "x2": {"datum": 2.13},
     "y": {"field": "row", "type": "quantitative", "scale": {"domain": [-2.071, 13.745], "nice": false, "zero": false, "reverse": true}, "axis": null}}},
   {"data": {"name": "tbl"}, "transform": [{"filter": "datum.p === 4 && datum.row === 0"}], "mark": {"type": "rule", "color": "black", "strokeWidth": 1.5},
    "encoding": {"x": {"datum": 0, "type": "quantitative", "scale": {"domain": [-3.625, 2.686], "nice": false, "zero": false}, "axis": null}, "x2": {"datum": 2.13},
     "y": {"datum": 9, "type": "quantitative", "scale": {"domain": [-2.071, 13.745], "nice": false, "zero": false, "reverse": true}, "axis": null}}},
   {"data": {"name": "tbl"}, "transform": [{"filter": "datum.p === 4 && datum.row === 0"}], "mark": {"type": "rule", "color": "black", "strokeWidth": 1.5},
    "encoding": {"x": {"datum": 0, "type": "quantitative", "scale": {"domain": [-3.625, 2.686], "nice": false, "zero": false}, "axis": null},
     "y": {"datum": 0, "type": "quantitative", "scale": {"domain": [-2.071, 13.745], "nice": false, "zero": false, "reverse": true}, "axis": null}, "y2": {"datum": 9}}},
   {"data": {"name": "tbl"}, "transform": [{"filter": "datum.p === 4 && datum.row === 0"}], "mark": {"type": "rule", "color": "black", "strokeWidth": 1.5},
    "encoding": {"x": {"datum": 1, "type": "quantitative", "scale": {"domain": [-3.625, 2.686], "nice": false, "zero": false}, "axis": null},
     "y": {"datum": 0, "type": "quantitative", "scale": {"domain": [-2.071, 13.745], "nice": false, "zero": false, "reverse": true}, "axis": null}, "y2": {"datum": 9}}},
   {"data": {"name": "tbl"}, "transform": [{"filter": "datum.p === 4 && datum.row === 0"}], "mark": {"type": "rule", "color": "black", "strokeWidth": 1.5},
    "encoding": {"x": {"datum": 2.13, "type": "quantitative", "scale": {"domain": [-3.625, 2.686], "nice": false, "zero": false}, "axis": null},
     "y": {"datum": 0, "type": "quantitative", "scale": {"domain": [-2.071, 13.745], "nice": false, "zero": false, "reverse": true}, "axis": null}, "y2": {"datum": 9}}},
   {"data": {"name": "tbl"}, "transform": [{"filter": "datum.p === 4"}], "mark": {"type": "text", "font": "Liberation Serif", "fontSize": 22, "color": "black", "baseline": "middle", "dy": 13},
    "encoding": {"x": {"datum": 0.5, "type": "quantitative", "scale": {"domain": [-3.625, 2.686], "nice": false, "zero": false}, "axis": null},
     "y": {"field": "row", "type": "quantitative", "scale": {"domain": [-2.071, 13.745], "nice": false, "zero": false, "reverse": true}, "axis": null}, "text": {"field": "el"}}},
   {"data": {"name": "tbl"}, "transform": [{"filter": "datum.p === 4"}], "mark": {"type": "text", "font": "Liberation Serif", "fontSize": 22, "color": "black", "baseline": "middle", "dy": 13},
    "encoding": {"x": {"datum": 1.565, "type": "quantitative", "scale": {"domain": [-3.625, 2.686], "nice": false, "zero": false}, "axis": null},
     "y": {"field": "row", "type": "quantitative", "scale": {"domain": [-2.071, 13.745], "nice": false, "zero": false, "reverse": true}, "axis": null}, "text": {"field": "w"}}}
  ]}
 ]}
], "spacing": 50}
]
}
